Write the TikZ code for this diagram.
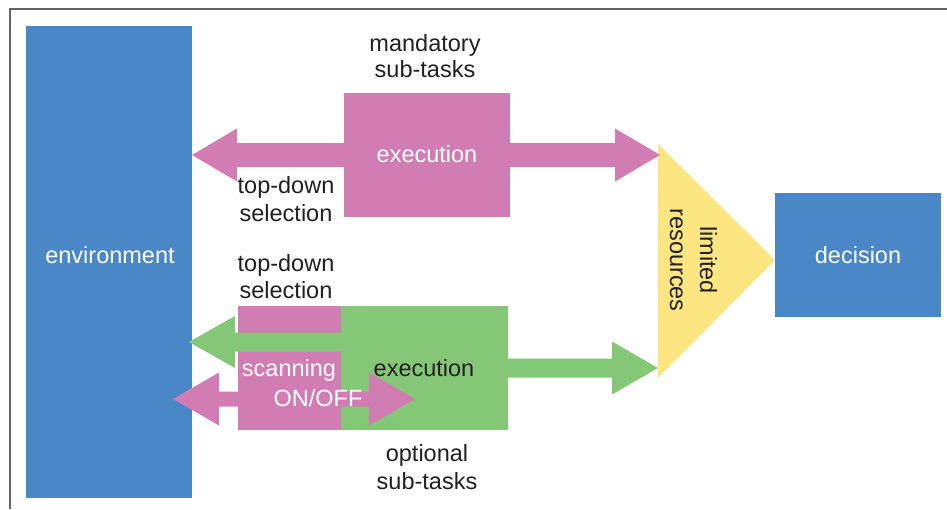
\documentclass[tikz,border=0pt]{standalone}
\usepackage{fontspec}
\setmainfont{Liberation Sans}
\usetikzlibrary{calc}
\definecolor{envblue}{RGB}{74,135,198}
\definecolor{mpink}{RGB}{209,125,180}
\definecolor{ogreen}{RGB}{132,200,119}
\definecolor{ryellow}{RGB}{251,230,130}
\definecolor{txt}{RGB}{35,31,32}
\definecolor{framegray}{RGB}{100,100,100}
% color, from, tip, direction (+1 right / -1 left), half shaft, head length, half head
\newcommand\blockarrow[7]{%
  \fill[#1] let \p1=(#2), \p2=(#3) in
  (\x1,\y2+#5pt) -- ({\x2-(#4)*#6pt},\y2+#5pt) -- ({\x2-(#4)*#6pt},\y2+#7pt) --
  (\x2,\y2) -- ({\x2-(#4)*#6pt},\y2-#7pt) -- ({\x2-(#4)*#6pt},\y2-#5pt) --
  (\x1,\y2-#5pt) -- cycle;}
\begin{document}
\begin{tikzpicture}[x=1pt,y=-1pt,
  every node/.style={font=\fontsize{23.5}{27}\selectfont, inner sep=0pt},
  block/.style={rectangle, draw=none, anchor=north west},
  lbl/.style={anchor=base, text=txt},
  wlbl/.style={anchor=base, text=white}]
\useasboundingbox (0,0) rectangle (947,509);
\fill[white] (0,0) rectangle (947,509);
\draw[framegray, line width=2pt] (10,509) -- (10,9) -- (947,9);

% main blocks
\node[block, fill=envblue, minimum width=166pt, minimum height=472pt] (env) at (26,26) {};
\node[block, fill=envblue, minimum width=166pt, minimum height=124pt] (dec) at (775,193) {};
\coordinate (triT) at (658,144);
\coordinate (triB) at (658,378);
\coordinate (triA) at (775,260);
\fill[ryellow] (triT) -- (triA) -- (triB) -- cycle;

% mandatory sub-tasks
\node[block, fill=mpink, minimum width=166pt, minimum height=124pt] (top) at (344,93) {};
\coordinate (tipL1) at (192,155);
\coordinate (tipR1) at (660,155);
\blockarrow{mpink}{top.center}{tipL1}{-1}{12}{45}{26.5}
\blockarrow{mpink}{top.center}{tipR1}{1}{12}{45}{26.5}

% optional sub-tasks
\node[block, fill=mpink, minimum width=104pt, minimum height=124pt] (sel) at (238,306) {};
\node[block, fill=ogreen, minimum width=167pt, minimum height=124pt] (opt) at (341,306) {};
\coordinate (tipL2) at (189,342);
\coordinate (tipR2) at (658,368);
\blockarrow{ogreen}{opt.center}{tipL2}{-1}{9.5}{46}{26}
\blockarrow{ogreen}{opt.center}{tipR2}{1}{9.5}{46}{26.5}
\coordinate (scan) at (294,399);
\coordinate (tipL3) at (173,399);
\coordinate (tipR3) at (415,399);
\blockarrow{mpink}{scan}{tipL3}{-1}{7.5}{46}{26.5}
\blockarrow{mpink}{scan}{tipR3}{1}{7.5}{46}{26.5}

% texts
\node[wlbl] (envt) at (110,263) {environment};
\node[wlbl] (dect) at (858,263) {decision};
\node[wlbl] (topt) at (427,162.5) {execution};
\node[lbl] (mand1) at (425,51) {mandatory};
\node[lbl] (mand2) at (425,77.5) {sub-tasks};
\node[lbl] (td1) at (286,193.5) {top-down};
\node[lbl] (td2) at (286,221.5) {selection};
\node[lbl] (td3) at (286,271) {top-down};
\node[lbl] (td4) at (286,298.5) {selection};
\node[wlbl] (scant) at (289,376) {scanning};
\node[wlbl] (onoff) at (318,406.5) {ON/OFF};
\node[lbl] (optt) at (424,376) {execution};
\node[lbl] (opt1) at (427,461.5) {optional};
\node[lbl] (opt2) at (427,489) {sub-tasks};
\node[lbl, rotate=-90] (lim1) at (700,260) {limited};
\node[lbl, rotate=-90] (lim2) at (670,260) {resources};
\end{tikzpicture}
\end{document}
